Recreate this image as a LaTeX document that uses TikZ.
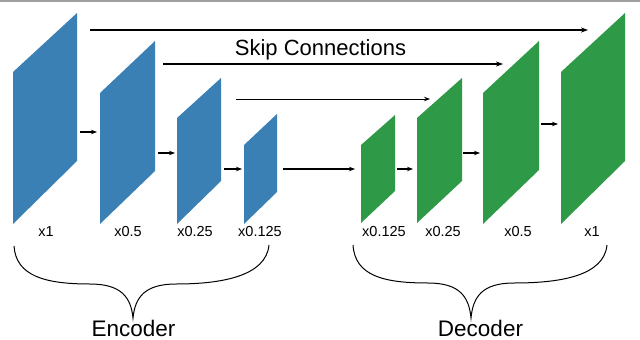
\documentclass[tikz,border=0pt]{standalone}
\usepackage{fontspec}
\setmainfont{Liberation Sans}
\usetikzlibrary{arrows.meta}
\definecolor{encblue}{HTML}{3A80B4}
\definecolor{decgreen}{HTML}{2E9A48}
\begin{document}
\begin{tikzpicture}[x=1pt,y=-1pt,
  conn/.style={line width=1.1pt,-{Stealth[length=6pt,width=4.5pt]}},
  skipline/.style={line width=1.2pt,-{Stealth[length=7pt,width=5pt]}},
  scalelbl/.style={font=\fontsize{14.5}{15}\selectfont,anchor=base,inner sep=0pt},
  grouplbl/.style={font=\fontsize{22.5}{24}\selectfont,anchor=base,inner sep=0pt},
  bracel/.style={line width=1pt}]
\useasboundingbox (0,0) rectangle (640,340);
\fill[white] (0,0) rectangle (640,340);
\fill[gray!75] (0,0) rectangle (640,2);
% encoder layers
\fill[encblue] (13,224) -- (13,72) -- (77,13) -- (77,161) -- cycle;
\fill[encblue] (100,224) -- (100,93) -- (155,41) -- (155,171) -- cycle;
\fill[encblue] (177,224) -- (177,118) -- (221,78) -- (221,181) -- cycle;
\fill[encblue] (244,224) -- (244,145) -- (277,114) -- (277,192) -- cycle;
% decoder layers
\fill[decgreen] (361,223) -- (361,145) -- (395,115) -- (395,191) -- cycle;
\fill[decgreen] (417,223) -- (417,118) -- (462,78) -- (462,181) -- cycle;
\fill[decgreen] (483,224) -- (483,93) -- (539,41) -- (539,170) -- cycle;
\fill[decgreen] (561,224) -- (561,72) -- (625,13) -- (625,161) -- cycle;
% connector end points
\coordinate (e1o) at (80,132);  \coordinate (e2i) at (97,132);
\coordinate (e2o) at (158,153); \coordinate (e3i) at (175,153);
\coordinate (e3o) at (224,169); \coordinate (e4i) at (242,169);
\coordinate (e4o) at (283,169); \coordinate (d1i) at (355,169);
\coordinate (d1o) at (397,169); \coordinate (d2i) at (413,169);
\coordinate (d2o) at (463,153); \coordinate (d3i) at (480,153);
\coordinate (d3o) at (541,124); \coordinate (d4i) at (558,124);
\coordinate (s1a) at (90,30);   \coordinate (s1b) at (588,30);
\coordinate (s2a) at (163,64);  \coordinate (s2b) at (503,64);
\coordinate (s3a) at (236,99);  \coordinate (s3b) at (430,99);
\draw[conn] (e1o) -- (e2i);
\draw[conn] (e2o) -- (e3i);
\draw[conn] (e3o) -- (e4i);
\draw[conn] (e4o) -- (d1i);
\draw[conn] (d1o) -- (d2i);
\draw[conn] (d2o) -- (d3i);
\draw[conn] (d3o) -- (d4i);
\draw[skipline] (s1a) -- (s1b);
\draw[skipline] (s2a) -- (s2b);
\draw[conn,line width=0.9pt] (s3a) -- (s3b);
\node[font=\fontsize{22}{24}\selectfont,anchor=base,inner sep=0pt] (skip) at (320.5,55) {Skip Connections};
% scale labels
\node[scalelbl] (l1) at (46,236) {x1};
\node[scalelbl] (l2) at (128,236) {x0.5};
\node[scalelbl] (l3) at (195,236) {x0.25};
\node[scalelbl] (l4) at (260,236) {x0.125};
\node[scalelbl] (l5) at (384,236) {x0.125};
\node[scalelbl] (l6) at (443,236) {x0.25};
\node[scalelbl] (l7) at (518,236) {x0.5};
\node[scalelbl] (l8) at (592,236) {x1};
% braces
\draw[bracel] (14,246) .. controls (16,276) and (45,284) .. (90,284)
  .. controls (122,284) and (131,298) .. (133,318)
  .. controls (135,298) and (144,284) .. (176,284)
  .. controls (222,284) and (266,276) .. (269,245);
\draw[bracel] (353,245) .. controls (355,276) and (384,283) .. (428,283)
  .. controls (460,283) and (469,297) .. (471,318)
  .. controls (473,297) and (482,283) .. (514,283)
  .. controls (560,283) and (604,276) .. (607,245);
\node[grouplbl] (enc) at (133.5,336.5) {Encoder};
\node[grouplbl] (dec) at (480.5,336.5) {Decoder};
\end{tikzpicture}
\end{document}
